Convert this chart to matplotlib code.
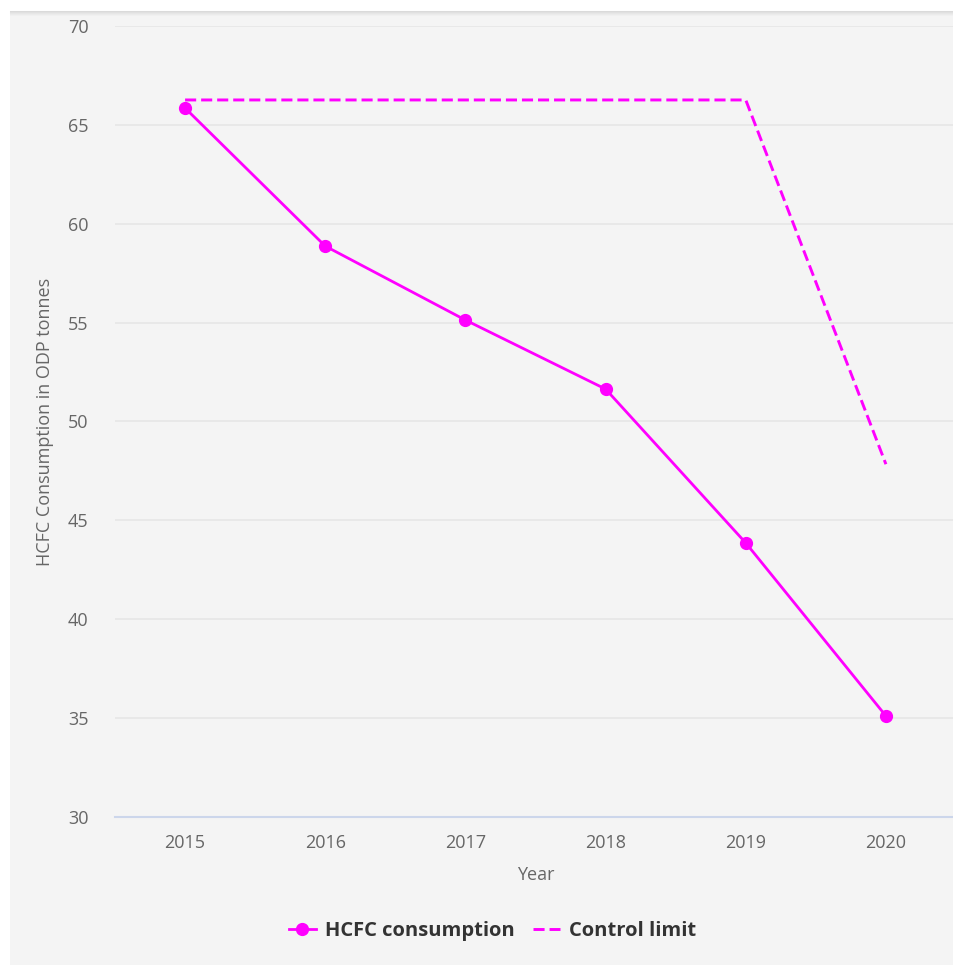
import numpy as np
import matplotlib
matplotlib.use("Agg")
import matplotlib.pyplot as plt
from matplotlib.patches import Rectangle

plt.rcParams['font.family'] = ['Open Sans', 'DejaVu Sans']

years = ['2015', '2016', '2017', '2018', '2019', '2020']
hcfc_consumption = [65.85, 58.87, 55.13, 51.64, 43.86, 35.11]
control_limit = [66.26, 66.26, 66.26, 66.26, 66.26, 47.84]

fig = plt.figure(figsize=(9.54, 9.65), dpi=100)
fig.patch.set_facecolor('white')

# card background with a soft top shadow
card_x0 = 10 / 954
card_y1 = 1 - 11 / 965
fig.patches.append(Rectangle((card_x0, 0), 1 - card_x0, card_y1, transform=fig.transFigure,
                             facecolor='#f4f4f4', edgecolor='none', zorder=-5))
for i, a in enumerate([0.10, 0.07, 0.05, 0.03, 0.015]):
    y = card_y1 - i / 965
    fig.add_artist(plt.Line2D([card_x0, 1], [y, y], transform=fig.transFigure,
                              color='black', alpha=a, linewidth=0.8, zorder=-4))

ax = fig.add_axes([115 / 954, 1 - 817 / 965, 841 / 954, 791 / 965])
ax.set_facecolor('none')

x = np.arange(len(years))
ax.plot(x, hcfc_consumption, color='#ff00ff', linewidth=2.0, marker='o', markersize=8.5,
        label='HCFC consumption', zorder=3)
ax.plot(x, control_limit, color='#ff00ff', linewidth=2.1, linestyle=(0, (3.8, 1.7)),
        label='Control limit', zorder=3)

ax.set_xlim(-0.5, len(years) - 0.5)
ax.set_ylim(30, 70)
ax.set_yticks(np.arange(30, 71, 5))
ax.set_xticks(x)
ax.set_xticklabels(years)

ax.grid(axis='y', color='#e6e6e6', linewidth=1.2)
ax.set_axisbelow(True)
for side in ['top', 'right', 'left']:
    ax.spines[side].set_visible(False)
ax.spines['bottom'].set_color('#ccd6eb')
ax.spines['bottom'].set_linewidth(1.5)
ax.spines['bottom'].set_zorder(2)

ax.tick_params(axis='both', length=0, labelsize=13, labelcolor='#666666')
ax.tick_params(axis='y', pad=19)
ax.tick_params(axis='x', pad=12)

ax.set_xlabel('Year', fontsize=13, color='#666666', labelpad=10)
ax.set_ylabel('HCFC Consumption in ODP tonnes', fontsize=13, color='#666666', labelpad=10)

leg = fig.legend(loc='center', bbox_to_anchor=(0.516, 1 - 931 / 965), ncol=2, frameon=False,
                 prop={'size': 14.5, 'weight': 'bold'}, handlelength=1.35, columnspacing=0.9,
                 handletextpad=0.45)
for t in leg.get_texts():
    t.set_color('#333333')

fig.savefig('out.png', dpi=100, facecolor=fig.get_facecolor())
